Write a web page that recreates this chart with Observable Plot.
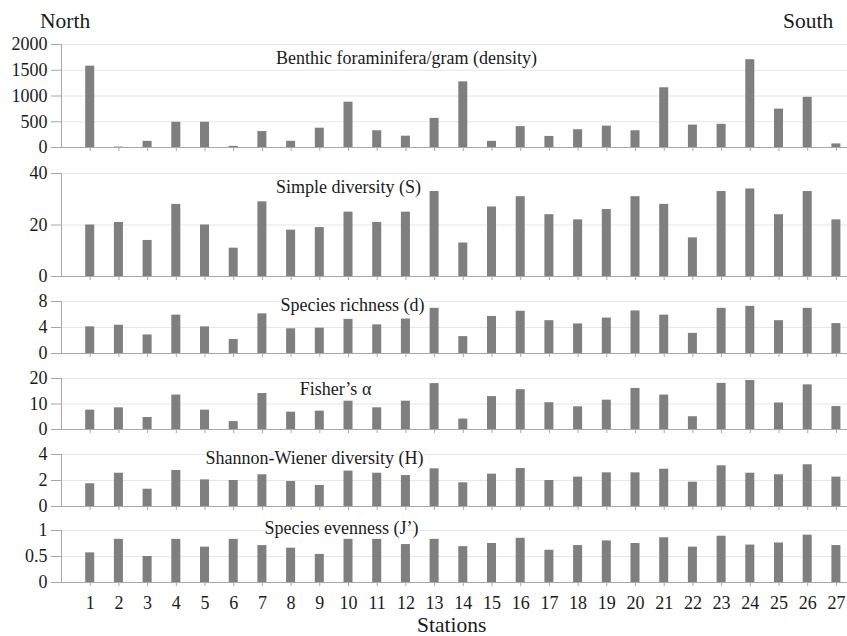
<!DOCTYPE html>
<html>
<head>
<meta charset="utf-8">
<script src="https://cdn.jsdelivr.net/npm/d3@7"></script>
<script src="https://cdn.jsdelivr.net/npm/@observablehq/plot@0.6"></script>
<style>
  html, body { margin: 0; padding: 0; background: #fff; }
  #chart { position: relative; width: 847px; height: 636px; overflow: hidden;
           font-family: 'Liberation Serif', 'Times New Roman', Times, 'DejaVu Serif', serif; color: #1a1a1a; }
  .lbl { position: absolute; font-size: 21.5px; line-height: 1; white-space: nowrap; }
  #chart svg { position: absolute; left: 0; overflow: visible; }
</style>
</head>
<body>
<div id="chart">
  <div class="lbl" style="left:40px; top:11px;">North</div>
  <div class="lbl" style="left:783px; top:11px;">South</div>
  <div class="lbl" style="left:417px; top:615px;">Stations</div>
</div>
<script>
// ---- data ----
const stations = [1,2,3,4,5,6,7,8,9,10,11,12,13,14,15,16,17,18,19,20,21,22,23,24,25,26,27];
const density = [1580, 8, 120, 490, 490, 22, 310, 120, 375, 880, 325, 220, 565, 1275, 120, 405, 215, 345, 415, 325, 1160, 435, 450, 1705, 745, 975, 70];
const simpleDiversity = [20, 21, 14, 28, 20, 11, 29, 18, 19, 25, 21, 25, 33, 13, 27, 31, 24, 22, 26, 31, 28, 15, 33, 34, 24, 33, 22];
const speciesRichness = [4.1, 4.35, 2.85, 5.9, 4.1, 2.15, 6.1, 3.8, 3.9, 5.25, 4.4, 5.3, 6.95, 2.6, 5.7, 6.5, 5.05, 4.55, 5.45, 6.55, 5.9, 3.1, 6.95, 7.25, 5.05, 6.95, 4.6];
const fisherAlpha = [7.6, 8.5, 4.7, 13.5, 7.6, 3.1, 14.1, 6.8, 7.2, 11.1, 8.5, 11.1, 18.0, 4.1, 12.9, 15.6, 10.5, 8.9, 11.5, 16.1, 13.5, 5.0, 18.1, 19.2, 10.4, 17.5, 9.0];
const shannonWiener = [1.75, 2.56, 1.33, 2.77, 2.05, 2.0, 2.44, 1.92, 1.62, 2.72, 2.56, 2.38, 2.9, 1.82, 2.49, 2.92, 2.0, 2.26, 2.59, 2.59, 2.87, 1.87, 3.13, 2.56, 2.44, 3.21, 2.26];
const speciesEvenness = [0.57, 0.83, 0.50, 0.83, 0.68, 0.83, 0.71, 0.66, 0.54, 0.83, 0.83, 0.73, 0.83, 0.69, 0.75, 0.85, 0.62, 0.71, 0.80, 0.75, 0.86, 0.68, 0.89, 0.72, 0.76, 0.91, 0.71];

const titles = ["Benthic foraminifera/gram (density)", "Simple diversity (S)", "Species richness (d)",
                "Fisher\u2019s \u03b1", "Shannon-Wiener diversity (H)", "Species evenness (J\u2019)"];
const yTicks = [[0, 500, 1000, 1500, 2000], [0, 20, 40], [0, 4, 8], [0, 10, 20], [0, 2, 4], [0, 0.5, 1]];
const seriesList = [density, simpleDiversity, speciesRichness, fisherAlpha, shannonWiener, speciesEvenness];

// ---- layout (pixels) ----
const layout = [
  {top: 44,  bottom: 147, titleX: 406, titleDy: 14},
  {top: 173, bottom: 276, titleX: 348, titleDy: 14},
  {top: 301, bottom: 353, titleX: 352, titleDy: 4},
  {top: 378, bottom: 429, titleX: 335, titleDy: 11},
  {top: 454, bottom: 506, titleX: 314, titleDy: 4},
  {top: 530, bottom: 582, titleX: 341, titleDy: -2}
];

const W = 847, ML = 61, MT = 8;
const font = "'Liberation Serif', 'Times New Roman', Times, 'DejaVu Serif', serif";
const container = document.getElementById("chart");

seriesList.forEach((values, k) => {
  const L = layout[k];
  const last = k === seriesList.length - 1;
  const MB = last ? 40 : 10;
  const ticks = yTicks[k];
  const data = stations.map((s, i) => ({station: s, value: values[i]}));
  const svg = Plot.plot({
    width: W,
    height: (L.bottom - L.top) + MT + MB,
    marginTop: MT, marginBottom: MB, marginLeft: ML, marginRight: 0,
    style: {fontFamily: font, fontSize: "18px", background: "transparent", color: "#1a1a1a", overflow: "visible"},
    x: {type: "band", domain: stations, round: false, paddingInner: 0.686, paddingOuter: 0.5365, align: 0.786},
    y: {domain: [ticks[0], ticks[ticks.length - 1]]},
    marks: [
      Plot.ruleY(ticks.slice(1), {stroke: "#e6e6e6", strokeWidth: 1}),
      Plot.text([titles[k]], {text: d => d, frameAnchor: "top-left", dx: L.titleX - ML, dy: L.titleDy,
        textAnchor: "middle", lineAnchor: "middle", fontSize: 18, fontFamily: font, fill: "#1a1a1a", stroke: "white", strokeWidth: 3}),
      Plot.barY(data, {x: "station", y: "value", fill: "#7f7f7f"}),
      Plot.ruleY([0], {stroke: "#a8a8a8", strokeWidth: 1.2}),
      Plot.frame({anchor: "left", stroke: "#a8a8a8"}),
      Plot.axisY({ticks: ticks, tickSize: 10, tickPadding: 4, tickFormat: d => String(d), label: null,
        stroke: "#a8a8a8", fill: "#1a1a1a", fontSize: 18, fontFamily: font}),
      Plot.axisX({tickSize: 4, tickPadding: 10, label: null, stroke: "#a8a8a8",
        fill: last ? "#1a1a1a" : "none", fontSize: 18, fontFamily: font})
    ]
  });
  svg.style.top = (L.top - MT) + "px";
  container.appendChild(svg);
});
</script>
</body>
</html>
